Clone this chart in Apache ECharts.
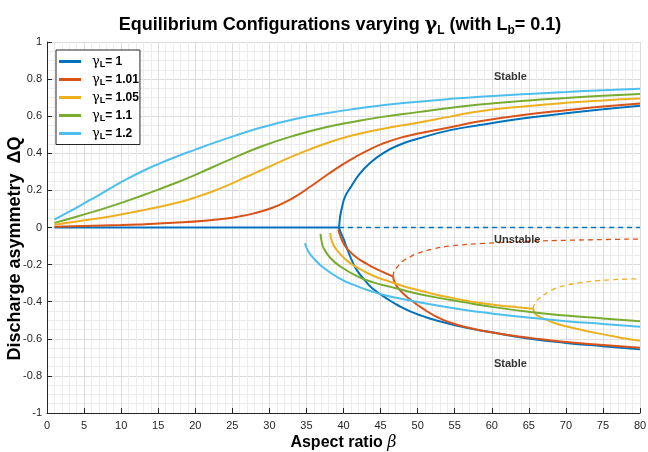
<!DOCTYPE html>
<html><head><meta charset="utf-8">
<script src="https://cdn.jsdelivr.net/npm/echarts@6/dist/echarts.min.js"></script>
<style>html,body{margin:0;padding:0;background:#fff}#c{width:648px;height:452px}</style>
</head><body><div id="c"></div>
<script>
// ---- data ----
const gammaNames = ['1', '1.01', '1.05', '1.1', '1.2'];
const colors = ['#0072BD', '#D95319', '#EDB120', '#77AC30', '#4DBEEE'];

// gamma = 1
const blueFlat = [[1, 0], [39.4, 0]];
const blueDash = [[39.4, 0], [80, 0]];
const blueUpper = [[39.4, 0], [39.55, 0.06], [39.75, 0.10], [40.2, 0.165], [41.1, 0.225], [42.2, 0.29], [43.5, 0.345], [45.3, 0.40], [47.5, 0.445], [50, 0.478], [54.4, 0.525], [58.4, 0.552], [62, 0.575], [66, 0.597], [70, 0.616], [75, 0.637], [80, 0.656]];
const blueLower = [[39.4, 0], [39.6, -0.025], [40, -0.06], [40.4, -0.105], [41.1, -0.175], [41.8, -0.23], [43, -0.29], [44, -0.332], [46.3, -0.395], [47.6, -0.425], [49, -0.452], [50.5, -0.475], [52.1, -0.496], [56.6, -0.541], [60, -0.565], [65.2, -0.60], [70, -0.622], [75, -0.64], [80, -0.657]];

// gamma = 1.01
const redUpper = [[1, 0.004], [5, 0.008], [10, 0.013], [13.2, 0.018], [17, 0.025], [21.3, 0.036], [24.5, 0.05], [26, 0.06], [27.5, 0.072], [29, 0.088], [30.5, 0.108], [31.8, 0.13], [33.5, 0.166], [35.7, 0.225], [37.9, 0.287], [39.7, 0.335], [41.6, 0.38], [43.5, 0.42], [45.3, 0.452], [47.5, 0.482], [49.9, 0.505], [54.4, 0.54], [58.4, 0.573], [65, 0.61], [70, 0.632], [75, 0.652], [80, 0.668]];
const redLowerA = [[39.3, -0.01], [39.6, -0.05], [40, -0.085], [40.5, -0.115], [41.8, -0.163], [43.2, -0.197], [44, -0.215], [45.5, -0.243], [46.7, -0.265]];
const redLowerB = [[46.7, -0.265], [46.9, -0.295], [47.6, -0.338], [49, -0.388], [50.8, -0.44], [52.5, -0.48], [54.4, -0.512], [56.6, -0.538], [58.9, -0.558], [62, -0.578], [65.2, -0.595], [70, -0.617], [75, -0.633], [80, -0.648]];
const redDash = [[46.7, -0.265], [46.8, -0.24], [47.2, -0.215], [47.6, -0.197], [48.1, -0.178], [49, -0.158], [49.9, -0.14], [52, -0.117], [54.4, -0.10], [58.9, -0.086], [65.2, -0.074], [70, -0.069], [75, -0.065], [80, -0.062]];

// gamma = 1.05
const yellowUpper = [[1, 0.015], [4.2, 0.034], [8.7, 0.061], [13.2, 0.095], [17.7, 0.135], [20, 0.162], [22.5, 0.197], [24.5, 0.23], [27, 0.275], [29, 0.31], [33.5, 0.39], [37.9, 0.457], [41.6, 0.50], [45, 0.53], [50, 0.565], [54, 0.595], [58.4, 0.627], [65, 0.655], [70, 0.672], [75, 0.685], [80, 0.695]];
const yellowLowerA = [[38.2, -0.03], [38.4, -0.07], [38.8, -0.105], [39.5, -0.14], [40.5, -0.18], [41.8, -0.215], [44, -0.26], [46.3, -0.293], [48, -0.315], [50, -0.337], [52.1, -0.358], [54.4, -0.378], [56.6, -0.395], [58.4, -0.407], [61, -0.42], [63.5, -0.43], [65.6, -0.438]];
const yellowLowerB = [[65.6, -0.438], [65.8, -0.46], [66.4, -0.48], [67.4, -0.498], [69, -0.522], [71.9, -0.55], [74, -0.568], [76.4, -0.586], [78, -0.598], [80, -0.61]];
const yellowDash = [[65.6, -0.438], [65.8, -0.41], [66.5, -0.379], [68.3, -0.334], [70, -0.312], [71.9, -0.298], [74, -0.288], [76.4, -0.281], [80, -0.276]];

// gamma = 1.1
const greenUpper = [[1, 0.025], [4.2, 0.061], [8.7, 0.115], [13.2, 0.178], [17.7, 0.245], [20, 0.284], [24.5, 0.363], [29, 0.438], [33.5, 0.497], [37.9, 0.543], [41.6, 0.572], [45, 0.595], [50, 0.622], [54, 0.643], [58.4, 0.663], [65, 0.685], [70, 0.698], [75, 0.71], [80, 0.72]];
const greenLower = [[36.9, -0.034], [37.05, -0.075], [37.3, -0.11], [38.2, -0.163], [39.5, -0.208], [41.8, -0.262], [44, -0.296], [46.3, -0.32], [47.6, -0.333], [49, -0.348], [52.1, -0.374], [56.6, -0.405], [58.4, -0.418], [65.2, -0.456], [70, -0.475], [75, -0.49], [80, -0.505]];

// gamma = 1.2
const cyanUpper = [[1, 0.043], [3, 0.085], [5, 0.13], [7, 0.175], [9, 0.222], [11, 0.266], [13, 0.306], [15, 0.342], [17.5, 0.383], [20, 0.42], [22.5, 0.456], [25, 0.49], [29, 0.54], [33.5, 0.585], [37.9, 0.617], [41.6, 0.64], [45, 0.658], [50, 0.678], [54, 0.692], [58.4, 0.705], [65, 0.72], [70, 0.73], [75, 0.74], [80, 0.748]];
const cyanLower = [[34.8, -0.085], [35.2, -0.125], [35.9, -0.163], [37.3, -0.217], [39.5, -0.275], [41.8, -0.316], [44, -0.347], [46.3, -0.372], [47.6, -0.383], [49, -0.394], [52.1, -0.416], [56.6, -0.446], [58.4, -0.456], [65.2, -0.487], [70, -0.505], [75, -0.52], [80, -0.535]];

// annotations
const annotations = [[60.3, 0.82, 'Stable'], [60.3, -0.058, 'Unstable'], [60.3, -0.725, 'Stable']];

const xTicks = {min: 0, max: 80, step: 5};
const yTicks = {min: -1, max: 1, step: 0.2};

// ---- build ----
function line(nameIdx, data, dashed) {
  return {
    type: 'line', name: gammaNames[nameIdx], data: data,
    showSymbol: false, symbol: 'none', smooth: 0.5, clip: true,
    lineStyle: dashed ? {color: colors[nameIdx], width: 1.3, type: [5, 4]} : {color: colors[nameIdx], width: 2},
    itemStyle: {color: colors[nameIdx]},
    z: dashed ? 2 : 3, silent: true
  };
}
const series = [
  line(0, blueFlat), line(0, blueUpper), line(0, blueLower), line(0, blueDash, true),
  line(1, redUpper), line(1, redLowerA), line(1, redLowerB), line(1, redDash, true),
  line(2, yellowUpper), line(2, yellowLowerA), line(2, yellowLowerB), line(2, yellowDash, true),
  line(3, greenUpper), line(3, greenLower),
  line(4, cyanUpper), line(4, cyanLower),
  {
    type: 'scatter', name: 'notes', symbolSize: 0, silent: true,
    data: annotations.map(a => ({value: [a[0], a[1]], label: {formatter: a[2]}})),
    label: {show: true, position: 'inside', align: 'left', offset: [0, 2], fontWeight: 'bold', fontSize: 11, color: '#000', fontFamily: 'Liberation Sans'}
  }
];

const axisCommon = {
  axisLine: {show: true, onZero: false, lineStyle: {color: '#262626', width: 1}},
  axisTick: {show: true, inside: true, length: 5, lineStyle: {color: '#262626'}},
  axisLabel: {color: '#262626', fontSize: 11, fontFamily: 'Liberation Sans'},
  splitLine: {show: true, lineStyle: {color: '#dcdcdc', width: 1}},
  minorSplitLine: {show: true, lineStyle: {color: '#ececec', width: 1}}
};

const chart = echarts.init(document.getElementById('c'), null, {renderer: 'canvas'});
chart.setOption({
  animation: false,
  backgroundColor: '#fff',
  title: {
    text: '{t|Equilibrium Configurations varying }{g|γ}{s|L}{t| (with L}{s|b}{t|= 0.1)}',
    left: 335, top: 8, textAlign: 'center',
    textStyle: {
      rich: {
        t: {fontFamily: 'Liberation Sans', fontWeight: 'bold', fontSize: 18, color: '#000', lineHeight: 24, verticalAlign: 'middle'},
        g: {fontFamily: 'DejaVu Serif', fontSize: 19, color: '#000', lineHeight: 24, verticalAlign: 'middle'},
        s: {fontFamily: 'Liberation Sans', fontWeight: 'bold', fontSize: 12, color: '#000', lineHeight: 13, verticalAlign: 'bottom'}
      }
    }
  },
  legend: {
    orient: 'vertical', left: 56, top: 50,
    icon: 'rect', itemWidth: 22, itemHeight: 3, itemGap: 3.5,
    backgroundColor: '#fff', borderColor: '#262626', borderWidth: 1,
    padding: [5, 1, 3, 3],
    data: gammaNames,
    formatter: n => '{g|γ}{s|L}{b|= ' + n + '}',
    textStyle: {
      rich: {
        g: {fontFamily: 'DejaVu Serif', fontSize: 13, color: '#000', lineHeight: 16, verticalAlign: 'middle', padding: [0, 0, 0, 6]},
        s: {fontFamily: 'Liberation Sans', fontWeight: 'bold', fontSize: 9, color: '#000', lineHeight: 9, verticalAlign: 'bottom'},
        b: {fontFamily: 'Liberation Sans', fontWeight: 'bold', fontSize: 12, color: '#000', lineHeight: 16, verticalAlign: 'middle'}
      }
    }
  },
  grid: {left: 47, right: 8, top: 42, bottom: 39, containLabel: false, outerBoundsMode: 'none'},
  xAxis: Object.assign({}, axisCommon, {
    type: 'value', min: xTicks.min, max: xTicks.max, interval: xTicks.step,
    minorTick: {show: false, splitNumber: 5},
    name: '{t|Aspect ratio }{g|β}', nameLocation: 'middle', nameGap: 22, nameMoveOverlap: false,
    nameTextStyle: {rich: {
      t: {fontFamily: 'Liberation Sans', fontWeight: 'bold', fontSize: 16, color: '#000'},
      g: {fontFamily: 'DejaVu Serif', fontStyle: 'italic', fontSize: 16, color: '#000'}
    }},
    axisLabel: Object.assign({}, axisCommon.axisLabel, {margin: 7})
  }),
  yAxis: Object.assign({}, axisCommon, {
    type: 'value', min: yTicks.min, max: yTicks.max, interval: yTicks.step,
    minorTick: {show: false, splitNumber: 4},
    name: '{a|Discharge asymmetry  ΔQ}{p|}', nameLocation: 'middle', nameGap: 23, nameRotate: 90, nameMoveOverlap: false,
    nameTextStyle: {rich: {
      a: {fontFamily: 'Liberation Sans', fontWeight: 'bold', fontSize: 18, color: '#000'},
      p: {width: 42}
    }},
    axisLabel: Object.assign({}, axisCommon.axisLabel, {margin: 5, formatter: v => (Math.abs(v) < 1e-9 ? '0' : String(+v.toFixed(1)))})
  }),
  series: series
});
</script></body></html>
